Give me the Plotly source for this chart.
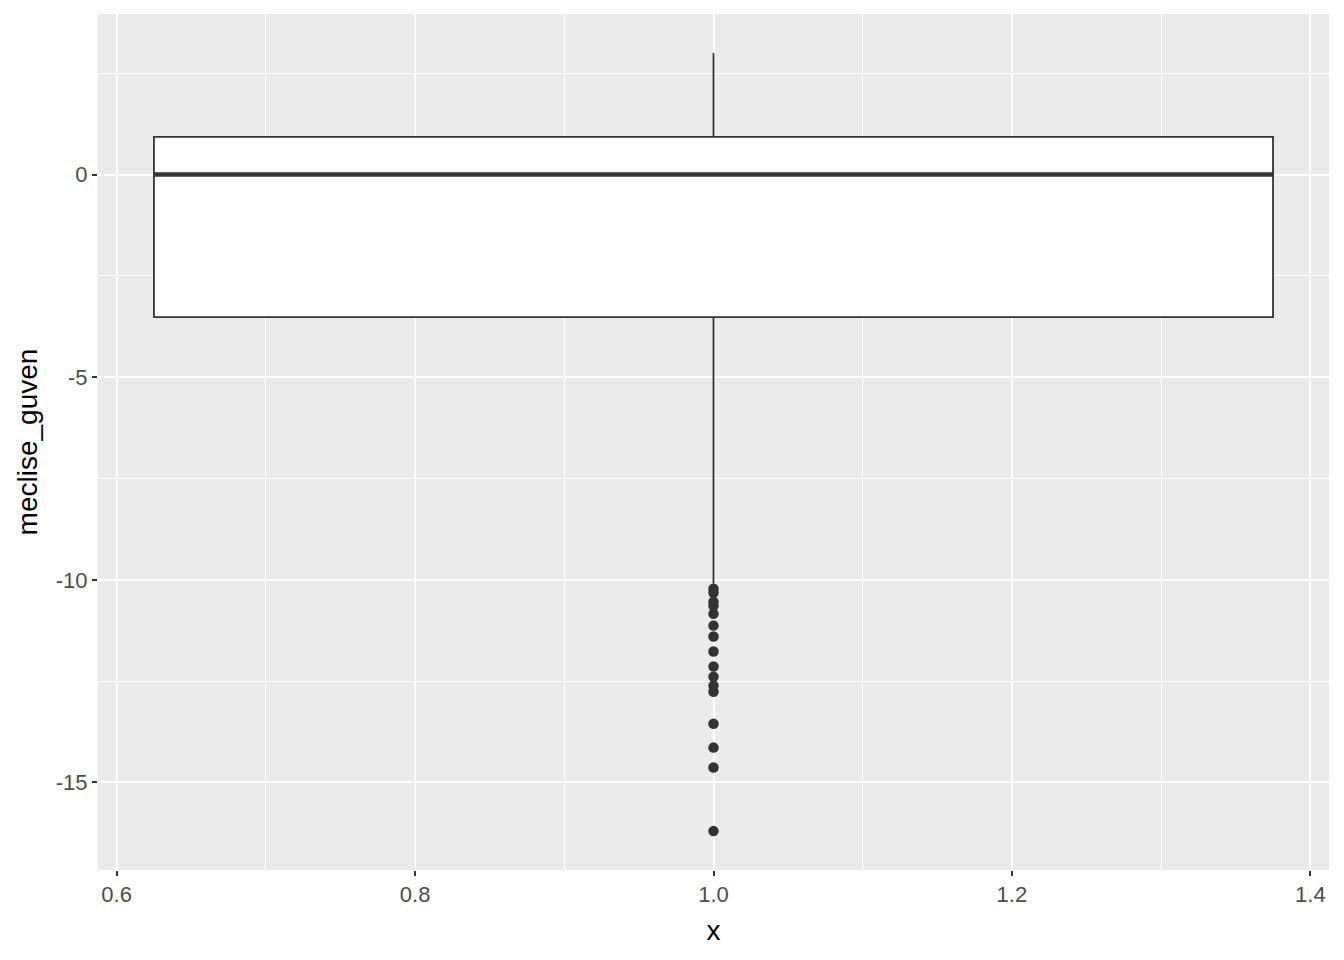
import plotly.graph_objects as go

# box statistics for meclise_guven
box_x = [1.0]
q1 = [-3.52]
median = [0.0]
q3 = [0.93]
lower_whisker = [-10.1]
upper_whisker = [3.0]
box_width = 0.75

# outliers below the lower whisker
outliers = [-10.22, -10.32, -10.54, -10.64, -10.84, -11.13, -11.40, -11.77,
            -12.14, -12.39, -12.61, -12.76, -13.55, -14.14, -14.63, -16.20]

x_ticks = [0.6, 0.8, 1.0, 1.2, 1.4]
x_labels = ["0.6", "0.8", "1.0", "1.2", "1.4"]
y_ticks = [-15, -10, -5, 0]
y_labels = ["-15", "-10", "-5", "0"]

dark = "#333333"
font = "Liberation Sans, Arial, sans-serif"

fig = go.Figure()

fig.add_trace(go.Box(
    x=box_x,
    q1=q1, median=median, q3=q3,
    lowerfence=lower_whisker, upperfence=upper_whisker,
    width=box_width,
    whiskerwidth=0,
    fillcolor="white",
    line=dict(color=dark, width=1.8),
    boxpoints=False,
    hoverinfo="skip",
    showlegend=False,
))

# thicker median line, like ggplot's fatten
fig.add_trace(go.Scatter(
    x=[box_x[0] - box_width / 2, box_x[0] + box_width / 2],
    y=[median[0], median[0]],
    mode="lines",
    line=dict(color=dark, width=4.5),
    hoverinfo="skip",
    showlegend=False,
))

fig.add_trace(go.Scatter(
    x=[box_x[0]] * len(outliers),
    y=outliers,
    mode="markers",
    marker=dict(color=dark, size=10.5),
    showlegend=False,
))

# ggplot-style 5% expansion
x_lo = box_x[0] - box_width / 2
x_hi = box_x[0] + box_width / 2
x_pad = (x_hi - x_lo) * 0.05
y_lo = min(outliers)
y_hi = upper_whisker[0]
y_pad = (y_hi - y_lo) * 0.05

# the page body adds 8px around the figure, margins make up for it
fig.update_layout(
    width=1344,
    height=960,
    autosize=False,
    margin=dict(l=90, r=23, t=6, b=98),
    paper_bgcolor="white",
    plot_bgcolor="#EBEBEB",
    font=dict(family=font, color="#4D4D4D", size=22),
    xaxis=dict(
        range=[x_lo - x_pad, x_hi + x_pad],
        tickvals=x_ticks,
        ticktext=x_labels,
        showgrid=True, gridcolor="white", gridwidth=2,
        minor=dict(dtick=0.1, tick0=0.6, showgrid=True, gridcolor="white", gridwidth=1),
        zeroline=False,
        ticks="outside", ticklen=5, tickwidth=2, tickcolor=dark,
        tickfont=dict(size=22, color="#4D4D4D"),
        title=dict(text="x", font=dict(size=28, color="black"), standoff=13),
        automargin=False,
    ),
    yaxis=dict(
        range=[y_lo - y_pad, y_hi + y_pad],
        tickvals=y_ticks,
        ticktext=y_labels,
        showgrid=True, gridcolor="white", gridwidth=2,
        minor=dict(dtick=2.5, tick0=0, showgrid=True, gridcolor="white", gridwidth=1),
        zeroline=False,
        ticks="outside", ticklen=5, tickwidth=2, tickcolor=dark,
        tickfont=dict(size=22, color="#4D4D4D"),
        title=dict(text="meclise_guven", font=dict(size=28, color="black"), standoff=10),
        automargin=False,
    ),
)

fig.write_html("out.html")
